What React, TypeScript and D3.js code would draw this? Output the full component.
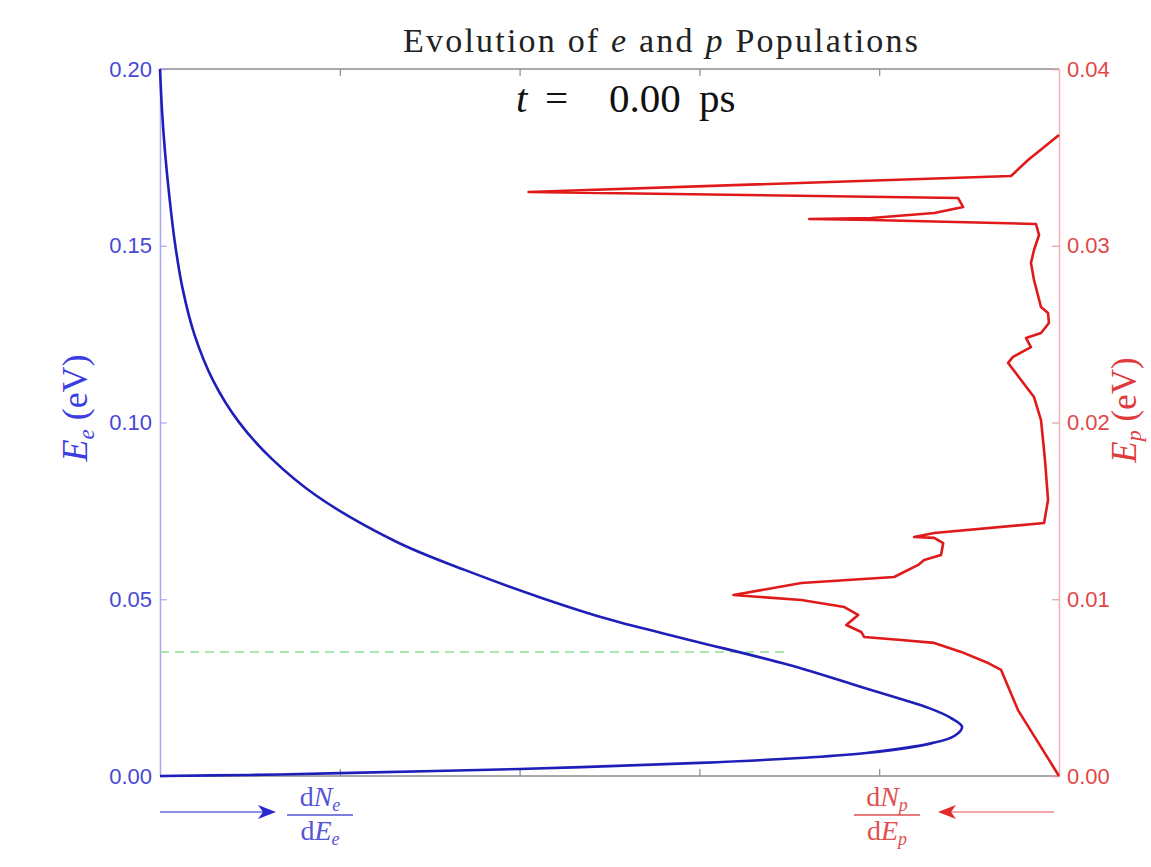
import React, { useEffect, useRef } from 'react';
import * as d3 from 'd3';

// electron spectrum: energy (eV) and dN/dE (arb.)
const blueE = [0.2, 0.1884, 0.1765, 0.1635, 0.1508, 0.1378, 0.1248, 0.1117, 0.1001, 0.0897, 0.0792, 0.0662, 0.0583, 0.0501, 0.0441, 0.0385, 0.0314, 0.0252, 0.0215, 0.0192, 0.0164, 0.0139, 0.0114, 0.0093, 0.0065, 0.0051, 0.0037, 0.002, 0.0008, 0.0003, 0];
const blueN = [0, 0.011, 0.028, 0.053, 0.083, 0.126, 0.192, 0.297, 0.439, 0.622, 0.872, 1.317, 1.694, 2.139, 2.511, 2.944, 3.5, 3.9, 4.139, 4.278, 4.4, 4.461, 4.42, 4.294, 3.928, 3.556, 3.0, 2.0, 1.0, 0.5, 0];

// phonon spectrum: energy (eV) and dN/dE (arb.)
const redE = [0, 0.00192, 0.00373, 0.006, 0.00639, 0.00702, 0.00753, 0.00769, 0.00786, 0.00815, 0.00854, 0.00911, 0.00956, 0.00996, 0.01024, 0.01092, 0.01126, 0.01194, 0.01222, 0.0125, 0.01318, 0.01347, 0.01352, 0.01375, 0.01431, 0.01562, 0.01788, 0.02014, 0.02144, 0.02337, 0.02371, 0.02427, 0.02478, 0.02506, 0.02563, 0.0262, 0.02653, 0.02806, 0.02902, 0.02976, 0.03061, 0.03123, 0.03146, 0.03151, 0.03157, 0.03185, 0.03219, 0.0327, 0.03304, 0.03395, 0.03485, 0.03627];
const redN = [0, 0.117, 0.228, 0.322, 0.394, 0.544, 0.694, 0.878, 1.083, 1.1, 1.183, 1.117, 1.194, 1.433, 1.811, 1.433, 0.917, 0.783, 0.75, 0.656, 0.644, 0.694, 0.806, 0.694, 0.083, 0.061, 0.078, 0.1, 0.139, 0.283, 0.256, 0.156, 0.183, 0.1, 0.056, 0.061, 0.1, 0.139, 0.156, 0.139, 0.111, 0.128, 1.044, 1.389, 1.044, 0.694, 0.533, 0.561, 2.95, 0.267, 0.172, 0];

const leftTicks = [0, 0.05, 0.1, 0.15, 0.2];
const rightTicks = [0, 0.01, 0.02, 0.03, 0.04];
const xTicks = [1, 2, 3, 4];
const fermiE = 0.0351; // green dashed level
const fermiN = 3.5;

const width = 1151;
const height = 867;
const margin = { top: 69, right: 92, bottom: 91, left: 160 };

const App = () => {
  const svgRef = useRef(null);

  useEffect(() => {
    const svg = d3.select(svgRef.current);
    svg.selectAll('*').remove();

    const x0 = margin.left;
    const x1 = width - margin.right;
    const y0 = height - margin.bottom;
    const y1 = margin.top;

    const xe = d3.scaleLinear().domain([0, 5]).range([x0, x1]);
    const xp = d3.scaleLinear().domain([0, 5]).range([x1, x0]);
    const ye = d3.scaleLinear().domain([0, 0.2]).range([y0, y1]);
    const yp = d3.scaleLinear().domain([0, 0.04]).range([y0, y1]);

    svg.append('rect').attr('width', width).attr('height', height).attr('fill', '#fff');

    // frame top / bottom
    svg.append('line').attr('x1', x0).attr('x2', x1).attr('y1', y1).attr('y2', y1)
      .attr('stroke', '#8c8c8c').attr('stroke-width', 1.5);
    svg.append('line').attr('x1', x0).attr('x2', x1).attr('y1', y0).attr('y2', y0)
      .attr('stroke', '#8c8c8c').attr('stroke-width', 1.5);

    // top and bottom ticks (inward)
    const topAxis = svg.append('g').attr('transform', `translate(0, ${y1})`)
      .call(d3.axisBottom(xe).tickValues(xTicks).tickSize(7).tickFormat(() => ''));
    topAxis.select('.domain').remove();
    topAxis.selectAll('line').attr('stroke', '#8c8c8c').attr('stroke-width', 1.2);
    const botAxis = svg.append('g').attr('transform', `translate(0, ${y0})`)
      .call(d3.axisTop(xe).tickValues(xTicks).tickSize(7).tickFormat(() => ''));
    botAxis.select('.domain').remove();
    botAxis.selectAll('line').attr('stroke', '#8c8c8c').attr('stroke-width', 1.2);

    const sans = '"Liberation Sans", Arial, sans-serif';

    // left axis
    const leftAxis = svg.append('g').attr('transform', `translate(${x0}, 0)`)
      .call(d3.axisLeft(ye).tickValues(leftTicks).tickSize(-7).tickPadding(8).tickFormat(d3.format('.2f')));
    leftAxis.select('.domain').attr('stroke', '#a9a9f2').attr('stroke-width', 1.5);
    leftAxis.selectAll('line').attr('stroke', '#a9a9f2').attr('stroke-width', 1.2);
    leftAxis.selectAll('text').attr('fill', '#4848d6').style('font-family', sans).style('font-size', '22px');

    // right axis
    const rightAxis = svg.append('g').attr('transform', `translate(${x1}, 0)`)
      .call(d3.axisRight(yp).tickValues(rightTicks).tickSize(-7).tickPadding(8).tickFormat(d3.format('.2f')));
    rightAxis.select('.domain').attr('stroke', '#f0b0b6').attr('stroke-width', 1.5);
    rightAxis.selectAll('line').attr('stroke', '#d8a0a4').attr('stroke-width', 1.2);
    rightAxis.selectAll('text').attr('fill', '#e04848').style('font-family', sans).style('font-size', '22px');

    // green dashed level
    svg.append('line')
      .attr('x1', xe(0)).attr('x2', xe(fermiN))
      .attr('y1', ye(fermiE)).attr('y2', ye(fermiE))
      .attr('stroke', '#8ee08e').attr('stroke-width', 1.5).attr('stroke-dasharray', '9,6');

    // electron curve
    const blueLine = d3.line<number>()
      .x((d, i) => xe(blueN[i]))
      .y((d) => ye(d))
      .curve(d3.curveCatmullRom.alpha(0.5));
    svg.append('path').attr('d', blueLine(blueE))
      .attr('fill', 'none').attr('stroke', '#1e1eb8').attr('stroke-width', 2.6);

    // phonon curve
    const redLine = d3.line<number>()
      .x((d, i) => xp(redN[i]))
      .y((d) => yp(d));
    svg.append('path').attr('d', redLine(redE))
      .attr('fill', 'none').attr('stroke', '#e01a1a').attr('stroke-width', 2.6)
      .attr('stroke-linejoin', 'round');

    const serif = '"Liberation Serif", "Times New Roman", serif';

    // title
    const title = svg.append('text').attr('x', 403).attr('y', 52)
      .attr('textLength', 515).attr('lengthAdjust', 'spacing')
      .attr('fill', '#222').style('font-family', serif).style('font-size', '34px');
    title.append('tspan').text('Evolution of ');
    title.append('tspan').attr('font-style', 'italic').text('e');
    title.append('tspan').text(' and ');
    title.append('tspan').attr('font-style', 'italic').text('p');
    title.append('tspan').text(' Populations');

    // time stamp
    const ts = svg.append('text').attr('y', 112)
      .attr('fill', '#111').style('font-family', serif).style('font-size', '41px');
    ts.append('tspan').attr('x', 516).attr('font-style', 'italic').text('t');
    ts.append('tspan').attr('x', 545).text('=');
    ts.append('tspan').attr('x', 609).text('0.00');
    ts.append('tspan').attr('x', 699).text('ps');

    // y labels
    const yl = svg.append('text').attr('transform', `translate(87, 408) rotate(-90)`)
      .attr('text-anchor', 'middle').attr('fill', '#3c3ce0')
      .style('font-family', serif).style('font-size', '36px');
    yl.append('tspan').attr('font-style', 'italic').text('E');
    yl.append('tspan').attr('font-style', 'italic').attr('font-size', '23px').attr('dy', 7).text('e');
    yl.append('tspan').attr('dy', -7).text(' (eV)');

    const yr = svg.append('text').attr('transform', `translate(1136, 410) rotate(-90)`)
      .attr('text-anchor', 'middle').attr('fill', '#e03a3a')
      .style('font-family', serif).style('font-size', '35px');
    yr.append('tspan').attr('font-style', 'italic').text('E');
    yr.append('tspan').attr('font-style', 'italic').attr('font-size', '22px').attr('dy', 5).text('p');
    yr.append('tspan').attr('dy', -5).text(' (eV)');

    // fraction labels with arrows
    const fraction = (cx, sub, color) => {
      const g = svg.append('g').attr('fill', color).style('font-family', serif).style('font-size', '28px');
      const num = g.append('text').attr('x', cx).attr('y', 806).attr('text-anchor', 'middle');
      num.append('tspan').text('d');
      num.append('tspan').attr('font-style', 'italic').text('N');
      num.append('tspan').attr('font-style', 'italic').attr('font-size', '18px').attr('dy', 5).text(sub);
      const den = g.append('text').attr('x', cx).attr('y', 840).attr('text-anchor', 'middle');
      den.append('tspan').text('d');
      den.append('tspan').attr('font-style', 'italic').text('E');
      den.append('tspan').attr('font-style', 'italic').attr('font-size', '18px').attr('dy', 5).text(sub);
      g.append('line').attr('x1', cx - 33).attr('x2', cx + 33).attr('y1', 815).attr('y2', 815)
        .attr('stroke', color).attr('stroke-width', 1.5);
    };
    fraction(320, 'e', '#5454d6');
    fraction(887, 'p', '#e05050');

    const arrow = (xa, xb, color, headColor) => {
      const dir = Math.sign(xb - xa);
      svg.append('line').attr('x1', xa).attr('x2', xb - dir * 8).attr('y1', 812).attr('y2', 812)
        .attr('stroke', color).attr('stroke-width', 1.6);
      const p = d3.path();
      p.moveTo(xb, 812);
      p.lineTo(xb - dir * 18, 805);
      p.lineTo(xb - dir * 13, 812);
      p.lineTo(xb - dir * 18, 819);
      p.closePath();
      svg.append('path').attr('d', p.toString()).attr('fill', headColor);
    };
    arrow(160, 276, '#6a6ae0', '#2a2ad0');
    arrow(1054, 938, '#f08a8a', '#e02a2a');
  }, []);

  return (
    <svg
      ref={svgRef}
      width={width}
      height={height}
      style={{ position: 'absolute', left: 0, top: 0 }}
    ></svg>
  );
};

export default App;
